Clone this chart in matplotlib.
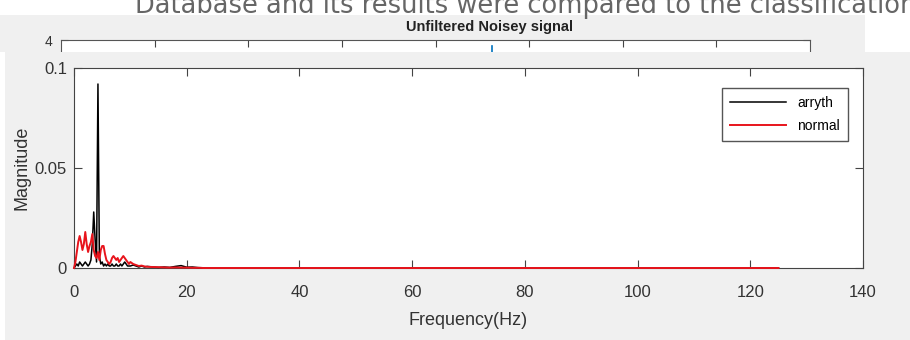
import matplotlib.pyplot as plt
from matplotlib.patches import Rectangle

# spectrum values (Hz, magnitude)
freq = [0.0, 0.25, 0.5, 0.75, 1.0, 1.25, 1.5, 1.75, 2.0, 2.25, 2.5, 2.75,
        3.0, 3.25, 3.5, 3.75, 4.0, 4.25, 4.5, 4.75, 5.0, 5.25, 5.5, 5.75,
        6.0, 6.25, 6.5, 6.75, 7.0, 7.25, 7.5, 7.75, 8.0, 8.25, 8.5, 8.75,
        9.0, 9.25, 9.5, 9.75, 10.0, 10.5, 11.0, 11.5, 12.0, 12.5, 13.0,
        14.0, 15.0, 16.0, 17.0, 18.0, 19.0, 20.0, 21.0, 22.0, 23.0, 24.0,
        125.0]
arryth = [0.0, 0.001, 0.002, 0.001, 0.003, 0.002, 0.001, 0.002, 0.003,
          0.002, 0.001, 0.002, 0.004, 0.012, 0.028, 0.014, 0.003, 0.092,
          0.006, 0.002, 0.003, 0.001, 0.002, 0.001, 0.002, 0.001, 0.001,
          0.002, 0.001, 0.001, 0.002, 0.001, 0.001, 0.002, 0.001, 0.002,
          0.003, 0.002, 0.001, 0.001, 0.001, 0.0015, 0.001, 0.0005, 0.001,
          0.0005, 0.0008, 0.0005, 0.0003, 0.0005, 0.0003, 0.0008, 0.0012,
          0.0004, 0.0005, 0.0002, 0.0001, 0.0, 0.0]
normal = [0.0, 0.003, 0.008, 0.013, 0.016, 0.013, 0.009, 0.012, 0.018,
          0.012, 0.008, 0.011, 0.013, 0.017, 0.009, 0.006, 0.005, 0.008,
          0.004, 0.009, 0.011, 0.011, 0.007, 0.004, 0.003, 0.002, 0.003,
          0.005, 0.006, 0.005, 0.004, 0.005, 0.003, 0.004, 0.005, 0.006,
          0.005, 0.004, 0.003, 0.002, 0.003, 0.002, 0.0015, 0.001, 0.0012,
          0.0008, 0.0006, 0.0005, 0.0004, 0.0003, 0.0002, 0.0003, 0.0002,
          0.0002, 0.0001, 0.0001, 0.0, 0.0, 0.0]

xticks = [0, 20, 40, 60, 80, 100, 120, 140]
yticks = [0, 0.05, 0.1]
yticklabels = ['0', '0.05', '0.1']

W, H = 910, 340
fig = plt.figure(figsize=(W / 100, H / 100), dpi=100)
fig.patch.set_facecolor('white')
sans = ['Liberation Sans', 'DejaVu Sans']

def px(x0, y0, w, h):
    # pixel box (top-left origin) -> figure fractions
    return [x0 / W, 1 - (y0 + h) / H, w / W, h / H]

# clipped sentence from the page above the figure
fig.text(135 / W, 1 - 13 / H, 'Database and its results were compared to the classification',
         fontsize=18.5, color='#666666', family='DejaVu Sans', va='baseline')

# upper, mostly hidden figure panel
fig.patches.append(Rectangle((0, 1 - 52 / H), 865 / W, 37 / H, transform=fig.transFigure,
                             facecolor='#f0f0f0', edgecolor='none', zorder=0))
up = fig.add_axes(px(61, 40, 749, 60), zorder=1)
up.set_xlim(0, 8)
up.set_ylim(-4, 4)
up.set_xticks([1, 2, 3, 4, 5, 6, 7])
up.set_xticklabels([])
up.set_yticks([4])
up.set_yticklabels(['4'], family=sans, fontsize=10, color='#333333')
up.tick_params(direction='in', top=True, right=True, length=5, color='#444444', pad=6)
up.plot([4.6, 4.6], [3.2, 1.5], color='#0072bd', lw=1.2)
for s in up.spines.values():
    s.set_color('#555555')
fig.text(490 / W, 1 - 27 / H, 'Unfiltered Noisey signal', ha='center', va='center',
         fontsize=10.5, fontweight='bold', color='#222222', family=sans)

# main panel covering the rest
fig.patches.append(Rectangle((5 / W, 0), 905 / W, 1 - 52 / H, transform=fig.transFigure,
                             facecolor='#f0f0f0', edgecolor='none', zorder=2))

ax = fig.add_axes(px(74, 68, 789, 200), zorder=3)
ax.set_facecolor('white')
ax.plot(freq, arryth, color='black', lw=1.1, label='arryth', clip_on=False, zorder=3)
ax.plot(freq, normal, color='#e8141c', lw=1.4, label='normal', clip_on=False, zorder=3)
ax.set_xlim(0, 140)
ax.set_ylim(0, 0.1)
ax.set_xticks(xticks)
ax.set_xticklabels([str(t) for t in xticks], family=sans, fontsize=12, color='#333333')
ax.set_yticks(yticks)
ax.set_yticklabels(yticklabels, family=sans, fontsize=12, color='#333333')
ax.tick_params(axis='x', direction='in', top=True, length=6, color='#444444', pad=12)
ax.tick_params(axis='y', direction='in', right=True, length=6, color='#444444', pad=5)
for s in ax.spines.values():
    s.set_color('#444444')
ax.set_xlabel('Frequency(Hz)', family=sans, fontsize=13, color='#333333', labelpad=9)
ax.set_ylabel('Magnitude', family=sans, fontsize=13, color='#333333', labelpad=3)
leg = ax.legend(loc='upper right', bbox_to_anchor=((848 - 74) / 789, 1 - 20 / 200),
                borderaxespad=0, prop={'family': sans, 'size': 10}, fancybox=False,
                framealpha=1, edgecolor='#555555', handlelength=4, borderpad=0.6,
                labelspacing=0.6)
leg.get_frame().set_linewidth(1)
leg.set_zorder(5)

fig.savefig('out.png', dpi=100)
